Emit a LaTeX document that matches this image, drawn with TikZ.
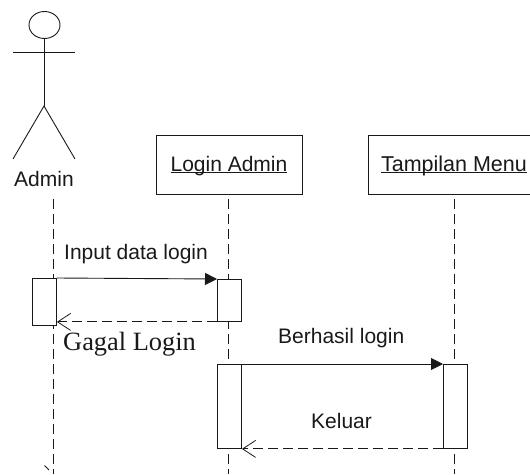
\documentclass[tikz,border=0pt]{standalone}
\usepackage{fontspec}
\setmainfont{Liberation Sans}
\newfontfamily\serifface{Liberation Serif}
\usetikzlibrary{arrows.meta}
\tikzset{
  ink/.style={draw=black!90,line width=0.9pt},
  lifebox/.style={ink,fill=white,inner sep=0pt,minimum height=59pt,anchor=north west},
  actbox/.style={ink,fill=white,inner sep=0pt,minimum width=24pt,anchor=north west},
  lifeline/.style={draw=black!90,line width=0.9pt,dash pattern=on 10pt off 5pt},
  call/.style={ink,-{Triangle[length=12pt,width=12pt]}},
  reply/.style={ink,dash pattern=on 10pt off 5pt,-{Straight Barb[length=13pt,width=17pt,line width=0.8pt]}},
  lab/.style={inner sep=0pt,font=\fontsize{21}{23}\selectfont,text=black!90}
}
\begin{document}
\begin{tikzpicture}[x=1pt,y=-1pt]
\useasboundingbox (0,0) rectangle (530,474);
% actor
\draw[ink] (44.5,25) ellipse [x radius=15.5pt,y radius=13.5pt];
\coordinate (neck) at (44,38.5);
\coordinate (hip) at (44,106);
\coordinate (armL) at (13,52);
\coordinate (armR) at (75,52);
\coordinate (footL) at (13,159);
\coordinate (footR) at (75,159);
\draw[ink] (neck) -- (hip);
\draw[ink] (armL) -- (armR);
\draw[ink] (footL) -- (hip) -- (footR);
\node[lab] (admin) at (44,178.5) {Admin};
% lifeline ends
\coordinate (a0) at (53,199);
\coordinate (a1) at (53,474);
\coordinate (b0) at (228.5,199);
\coordinate (b1) at (228.5,474);
\coordinate (c0) at (454.5,199);
\coordinate (c1) at (454.5,474);
\draw[lifeline] (a0) -- (a1);
\draw[lifeline] (b0) -- (b1);
\draw[lifeline] (c0) -- (c1);
% heads
\node[lifebox,minimum width=145.5pt] (login) at (156,135) {};
\node[lab,anchor=base] at (229,171) {\underbar{Login Admin}};
\node[lifebox,minimum width=165pt] (menu) at (367.5,135) {};
\node[lab,anchor=base,font=\fontsize{21.5}{23}\selectfont] at (454,171) {\underbar{Tampilan Menu}};
% activations
\node[actbox,minimum height=47pt] (act1) at (32,278) {};
\node[actbox,minimum height=42pt] (act2) at (217,279) {};
\node[actbox,minimum height=84pt] (act3) at (217,364) {};
\node[actbox,minimum height=84pt] (act4) at (443,364) {};
% messages
\draw[call] (act1.north east) -- (act2.north west);
\draw[reply] (act2.south west) -- (act2.south west -| act1.east);
\draw[call] (act3.north east) -- (act4.north west);
\draw[reply] (act4.south west) -- (act3.south east);
% labels
\node[lab,anchor=base west] at (64,259) {Input data login};
\node[lab,anchor=base west,font=\serifface\fontsize{26.4}{28}\selectfont] at (63,350) {Gagal Login};
\node[lab,anchor=base west] at (278,343.5) {Berhasil login};
\node[lab,anchor=base west] at (311,428.5) {Keluar};
% stray tick
\coordinate (t0) at (44.5,465.5);
\coordinate (t1) at (49,470);
\draw[ink] (t0) -- (t1);
\end{tikzpicture}
\end{document}
